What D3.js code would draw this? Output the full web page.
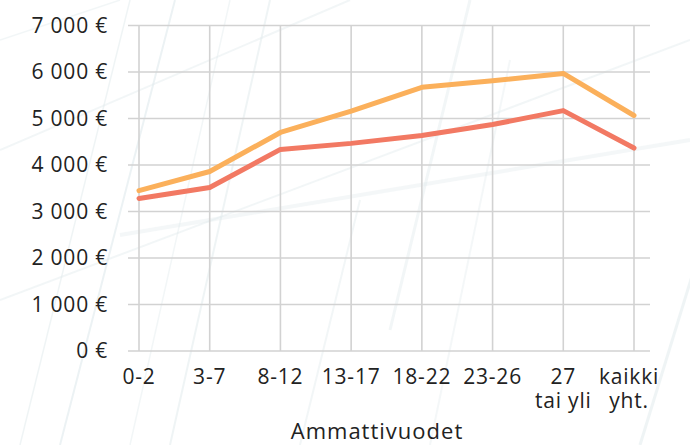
<!DOCTYPE html>
<html>
<head>
<meta charset="utf-8">
<script src="https://cdn.jsdelivr.net/npm/d3@7/dist/d3.min.js"></script>
<style>
  html, body { margin: 0; padding: 0; background: #fff; }
  svg text { font-family: "Open Sans", sans-serif; fill: #222; }
</style>
</head>
<body>
<svg id="chart" width="690" height="445"></svg>
<script>
const categories = ["0-2", "3-7", "8-12", "13-17", "18-22", "23-26", "27|tai yli", "kaikki|yht."];
const seriesOrange = [3450, 3860, 4700, 5160, 5670, 5810, 5970, 5065];
const seriesRed = [3280, 3515, 4335, 4465, 4635, 4870, 5170, 4365];
const yTicks = [0, 1000, 2000, 3000, 4000, 5000, 6000, 7000];
const xTitle = "Ammattivuodet";

const svg = d3.select("#chart");

// faint decorative background streaks
const bg = svg.append("g").attr("stroke", "#dfe9ec").attr("fill", "none");
const streaks = [
  [[0, 300], [690, 40], 2, 0.4],
  [[0, 150], [350, 0], 2, 0.4],
  [[60, 445], [175, 0], 2, 0.6],
  [[20, 445], [130, 0], 1.5, 0.5],
  [[170, 445], [270, 0], 2, 0.5],
  [[130, 445], [230, 0], 1.5, 0.4],
  [[390, 330], [470, 0], 3, 0.4],
  [[430, 445], [510, 60], 2, 0.35],
  [[300, 445], [360, 200], 2, 0.4],
  [[120, 235], [690, 140], 4, 0.35],
  [[640, 445], [700, 250], 3, 0.5],
  [[0, 40], [120, 0], 1.5, 0.4]
];
streaks.forEach(s => {
  bg.append("line").attr("x1", s[0][0]).attr("y1", s[0][1]).attr("x2", s[1][0]).attr("y2", s[1][1])
    .attr("stroke-width", s[2]).attr("opacity", s[3]);
});

const x = d3.scalePoint().domain(categories).range([139, 634]);
const y = d3.scaleLinear().domain([0, 7000]).range([351, 25.5]);

const grid = "#d2d2d2";
svg.append("g").selectAll("line").data(yTicks).join("line")
  .attr("x1", 128).attr("x2", 650)
  .attr("y1", d => y(d)).attr("y2", d => y(d))
  .attr("stroke", grid).attr("stroke-width", 1.6);
svg.append("g").selectAll("line").data(categories).join("line")
  .attr("x1", d => x(d)).attr("x2", d => x(d))
  .attr("y1", y(7000)).attr("y2", y(0))
  .attr("stroke", grid).attr("stroke-width", 1.6);

const fmt = v => (v === 0 ? "0" : d3.format(",")(v).replace(/,/g, "\u00a0")) + "\u00a0€";
svg.append("g").selectAll("text").data(yTicks).join("text")
  .attr("x", 108).attr("y", d => y(d)).attr("dy", "0.35em")
  .attr("text-anchor", "end").attr("font-size", 21).attr("letter-spacing", 0.8)
  .text(fmt);

const lastCat = categories[categories.length - 1];
const lx = d => x(d) - (d === lastCat ? 5 : 0);
const labelLines = [];
categories.forEach(c => c.split("|").forEach((p, i) => labelLines.push({ c, p, i })));
svg.append("g").selectAll("text").data(labelLines).join("text")
  .attr("x", d => lx(d.c)).attr("y", d => 384 + d.i * 23.5)
  .attr("text-anchor", "middle").attr("font-size", 21).attr("letter-spacing", 0.8)
  .text(d => d.p);

svg.append("text").attr("x", 377).attr("y", 439).attr("text-anchor", "middle")
  .attr("font-size", 22).attr("letter-spacing", 1).text(xTitle);

const line = d3.line().x((d, i) => x(categories[i])).y(d => y(d));
svg.append("path").datum(seriesOrange).attr("d", line)
  .attr("fill", "none").attr("stroke", "#fbb05b").attr("stroke-width", 5)
  .attr("stroke-linecap", "round").attr("stroke-linejoin", "round");
svg.append("path").datum(seriesRed).attr("d", line)
  .attr("fill", "none").attr("stroke", "#f27963").attr("stroke-width", 5)
  .attr("stroke-linecap", "round").attr("stroke-linejoin", "round");
</script>
</body>
</html>
